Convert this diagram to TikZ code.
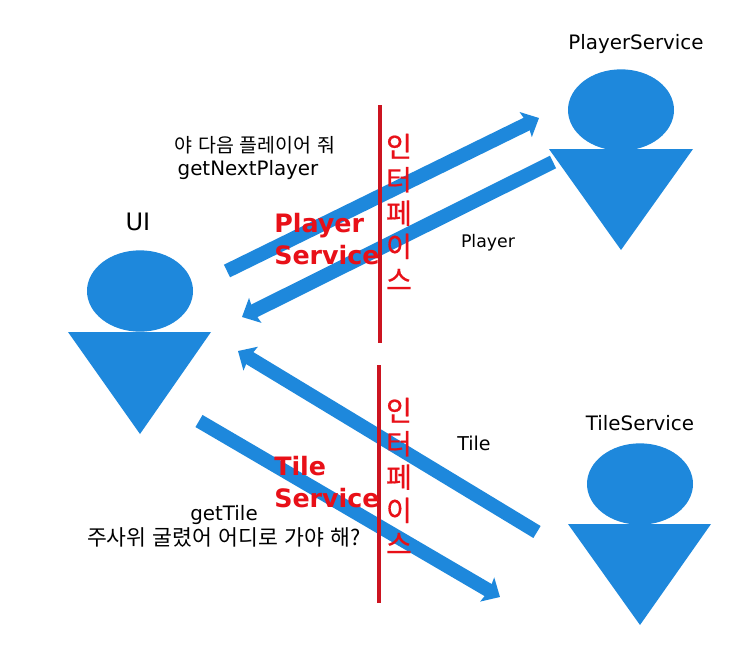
\documentclass[tikz,border=0pt]{standalone}
\usepackage{fontspec}
\setmainfont{DejaVu Sans}
\newfontfamily\kr[WordSpace=1.3]{Noto Sans CJK KR}
\newfontfamily\krb[FakeBold=0.6]{Noto Sans CJK KR}
\usetikzlibrary{arrows.meta,shapes.geometric}
\definecolor{blu}{HTML}{1E88DC}
\definecolor{rd}{HTML}{E81018}
\definecolor{wl}{HTML}{CC1420}
\tikzset{
 x=0.75pt,y=-0.75pt,
 head/.style={ellipse,fill=blu,inner sep=0,minimum width=79.5pt,minimum height=61pt},
 arr/.style={draw=blu,line width=10.5pt,-{Stealth[length=11pt,width=20.5pt,inset=1.5pt]}},
 lbl/.style={inner sep=0,font=\fontsize{14.9pt}{17pt}\selectfont,text=black},
 krs/.style={inner sep=0,text=black},
 sv/.style={inner sep=0,align=left,anchor=west,text=rd,font=\bfseries\fontsize{19pt}{24pt}\selectfont},
 kv/.style={inner sep=0,align=center,text=rd,font=\krb\fontsize{21pt}{25pt}\selectfont},
 wall/.style={draw=wl,line width=2.8pt}
}
\begin{document}
\begin{tikzpicture}
\useasboundingbox (0,0) rectangle (747,657);
\fill[white] (0,0) rectangle (747,657);
% actors
\node[head] (uih) at (140,291) {};
\fill[blu] (68,332) -- (211,332) -- (140,434) -- cycle;
\node[head] (psh) at (621,110) {};
\fill[blu] (549,149) -- (693,149) -- (621,250) -- cycle;
\node[head] (tsh) at (640,484) {};
\fill[blu] (568,524) -- (711,524) -- (640,625) -- cycle;
% free ends
\coordinate (a1) at (227,271); \coordinate (a2) at (539,118);
\coordinate (b1) at (553,162); \coordinate (b2) at (242,317);
\coordinate (c1) at (537,532); \coordinate (c2) at (238,351);
\coordinate (d1) at (199,421); \coordinate (d2) at (500,597);
\draw[arr] (a1) -- (a2);
\draw[arr] (b1) -- (b2);
\draw[arr] (c1) -- (c2);
\draw[arr] (d1) -- (d2);
% walls
\coordinate (w1) at (380,105); \coordinate (w2) at (380,343);
\coordinate (w3) at (379,365); \coordinate (w4) at (379,603);
\draw[wall] (w1) -- (w2);
\draw[wall] (w3) -- (w4);
% labels
\node[lbl] (t1) at (636,44) {PlayerService};
\node[lbl] (t2) at (640,423) {TileService};
\node[inner sep=0,font=\fontsize{18pt}{22pt}\selectfont] (t3) at (138,222) {UI};
\node[krs,font=\kr\fontsize{14.6pt}{16pt}\selectfont] (t4) at (255,145) {야 다음 플레이어 줘};
\node[lbl] (t5) at (248,170) {getNextPlayer};
\node[inner sep=0,font=\fontsize{13pt}{15pt}\selectfont] (t6) at (488,243) {Player};
\node[inner sep=0,font=\fontsize{14.3pt}{17pt}\selectfont] (t7) at (474,443) {Tile};
\node[lbl] (t8) at (224,515) {getTile};
\node[krs,font=\kr\fontsize{16.2pt}{18pt}\selectfont] (t9) at (224,538) {주사위 굴렸어 어디로 가야 해?};
\node[sv] (s1) at (274,239) {Player\\Service};
\node[sv] (s2) at (274,482) {Tile\\Service};
\node[kv] (k1) at (399,212) {인\\터\\페\\이\\스};
\node[kv] (k2) at (399,476) {인\\터\\페\\이\\스};
\end{tikzpicture}
\end{document}
